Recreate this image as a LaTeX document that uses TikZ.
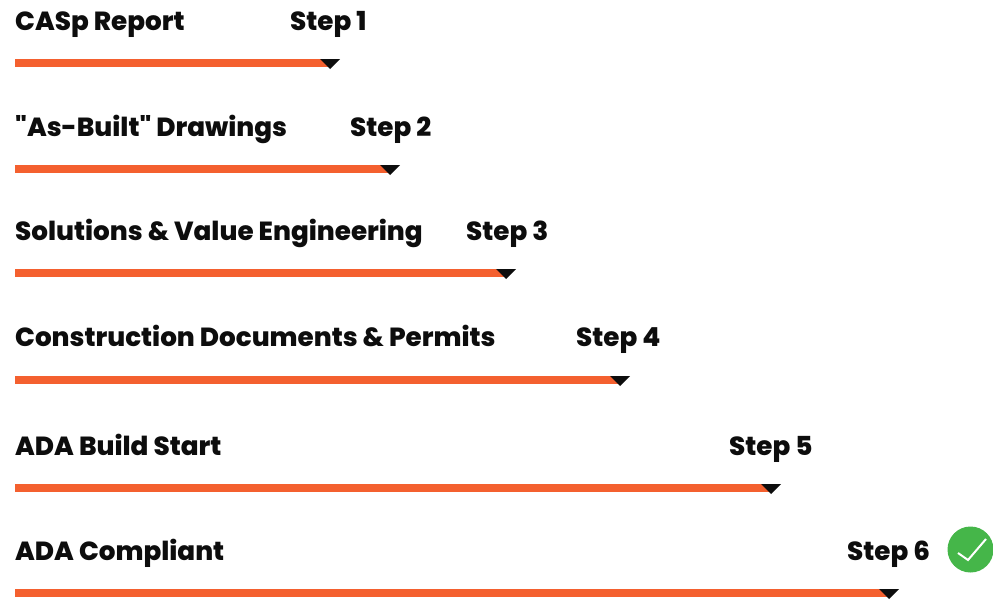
\documentclass[tikz,border=0pt]{standalone}
\usepackage{fontspec}
\setmainfont{Poppins}[BoldFont={Poppins ExtraBold},Ligatures=TeXOff]
\definecolor{barorange}{HTML}{F4602F}
\definecolor{checkgreen}{HTML}{45B649}
\tikzset{
    steplabel/.style={anchor=base west, inner sep=0pt, font=\fontsize{26.2}{30}\selectfont\bfseries, text=black!95},
    steptip/.style={fill=black!95, draw=none},
    stepbar/.style={fill=barorange, draw=none}
}
\begin{document}
\begin{tikzpicture}[x=1pt,y=-1pt]
    \useasboundingbox (0,0) rectangle (993,600);

    % Rows: y of bar, bar end, text baseline, step x, title, step
    \foreach \rowid/\ybar/\xend/\ytext/\xstep/\title/\steptext in {
        a/63/330/30/290/CASp Report/Step 1,
        b/169/390/136/350/"As-Built" Drawings/Step 2,
        c/273/506/240/466/Solutions \& Value Engineering/Step 3,
        d/380/620/346/576/Construction Documents \& Permits/Step 4,
        e/488/771/455/729/ADA Build Start/Step 5,
        f/593/889/560/847/ADA Compliant/Step 6}
    {
        \node[steplabel] (title\rowid) at (15,\ytext) {\title};
        \node[steplabel] (step\rowid) at (\xstep,\ytext) {\steptext};
        \fill[stepbar] (15,\ybar-4) rectangle (\xend,\ybar+4);
        \fill[steptip] (\xend-10,\ybar-4) -- (\xend+10,\ybar-4) -- (\xend,\ybar+6) -- cycle;
    }

    % Check mark after the last step
    \node[circle, fill=checkgreen, minimum size=46pt, inner sep=0pt] (okmark) at (970.5,549.5) {};
    \draw[white, line width=2pt] (958,553) -- (968,560) -- (986,539);
\end{tikzpicture}
\end{document}
